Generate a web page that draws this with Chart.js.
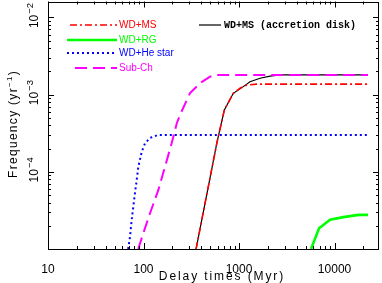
<!DOCTYPE html>
<html>
<head>
<meta charset="utf-8">
<script src="https://cdn.jsdelivr.net/npm/chart.js@4.4.0/dist/chart.umd.min.js"></script>
<style>
  html, body { margin: 0; padding: 0; background: #fff; }
  #chart { display: block; }
</style>
</head>
<body>
<canvas id="chart" width="382" height="283"></canvas>
<script>
// tick values
const xTicks = [10, 100, 1000, 10000];
const yTicks = [1e-4, 1e-3, 1e-2];
const yTickExps = ['\u22124', '\u22123', '\u22122'];

// delay time (Myr) / frequency (yr^-1)
const wdmsX = [355, 589, 702, 871, 1023, 1204, 1531, 22400];
const wdmsY = [1.0e-5, 2.44e-4, 6.33e-4, 1.04e-3, 1.21e-3, 1.33e-3, 1.37e-3, 1.37e-3];

const rgX = [5675, 6885, 8975, 12370, 17750, 22400];
const rgY = [1.0e-5, 1.86e-5, 2.39e-5, 2.59e-5, 2.77e-5, 2.77e-5];

const heX = [69, 72.3, 75.2, 78.2, 81.4, 84.9, 88.3, 95.8, 103.7, 117, 142, 22400];
const heY = [1.0e-5, 1.45e-5, 2.39e-5, 3.55e-5, 5.34e-5, 7.86e-5, 1.17e-4, 1.82e-4, 2.34e-4, 2.75e-4, 3.0e-4, 3.0e-4];

const subchX = [88, 99.6, 117, 143, 168, 197, 223, 241, 307, 391, 497, 584, 22400];
const subchY = [1.0e-5, 1.61e-5, 2.91e-5, 5.83e-5, 1.17e-4, 2.34e-4, 4.26e-4, 5.45e-4, 1.05e-3, 1.41e-3, 1.71e-3, 1.80e-3, 1.80e-3];

const diskX = [355, 589, 702, 871, 1109, 1303, 1660, 2113, 2688, 22400];
const diskY = [1.0e-5, 2.44e-4, 6.33e-4, 1.04e-3, 1.27e-3, 1.47e-3, 1.63e-3, 1.74e-3, 1.80e-3, 1.80e-3];

const pts = (xs, ys) => xs.map((x, i) => ({x: x, y: ys[i]}));

const SANS = "'Liberation Sans', Arial, sans-serif";

// frame, inward ticks, y labels, titles and legend
const decor = {
    id: 'decor',
    afterDraw(chart) {
        const ctx = chart.ctx;
        const a = chart.chartArea;
        const xs = chart.scales.x, ys = chart.scales.y;
        ctx.save();
        ctx.strokeStyle = '#000';
        ctx.lineWidth = 1;
        ctx.setLineDash([]);
        ctx.strokeRect(Math.round(a.left) + 0.5, Math.round(a.top) + 0.5,
            Math.round(a.right - a.left) - 1, Math.round(a.bottom - a.top) - 1);

        const tick = (x1, y1, x2, y2) => {
            ctx.beginPath();
            ctx.moveTo(x1, y1);
            ctx.lineTo(x2, y2);
            ctx.stroke();
        };
        // x ticks
        for (let d = 10; d <= xs.max; d *= 10) {
            for (let m = 1; m <= 9; m++) {
                const v = d * m;
                if (v < xs.min || v > xs.max) continue;
                const len = m === 1 ? 6 : 3;
                const px = Math.round(xs.getPixelForValue(v)) + 0.5;
                tick(px, a.bottom, px, a.bottom - len);
                tick(px, a.top, px, a.top + len);
            }
        }
        // y ticks
        for (let d = 1e-5; d <= ys.max; d *= 10) {
            for (let m = 1; m <= 9; m++) {
                const v = d * m;
                if (v < ys.min * 0.999 || v > ys.max) continue;
                const len = m === 1 ? 6 : 3;
                const py = Math.round(ys.getPixelForValue(v)) + 0.5;
                tick(a.left, py, a.left + len, py);
                tick(a.right, py, a.right - len, py);
            }
        }

        ctx.fillStyle = '#000';
        ctx.textBaseline = 'alphabetic';
        ctx.textAlign = 'left';

        // y tick labels, rotated, with exponent
        yTicks.forEach((v, i) => {
            const py = ys.getPixelForValue(v);
            ctx.save();
            ctx.translate(37.5, py - 2);
            ctx.rotate(-Math.PI / 2);
            ctx.font = '12px ' + SANS;
            const wb = ctx.measureText('10').width;
            ctx.font = '9.5px ' + SANS;
            const we = ctx.measureText(yTickExps[i]).width;
            const x0 = -(wb + 1 + we) / 2;
            ctx.font = '12px ' + SANS;
            ctx.fillText('10', x0, 0);
            ctx.font = '9.5px ' + SANS;
            ctx.fillText(yTickExps[i], x0 + wb + 1, -5);
            ctx.restore();
        });

        // axis titles
        ctx.save();
        ctx.font = '12px ' + SANS;
        ctx.letterSpacing = '1.9px';
        const xt = 'Delay times (Myr)';
        const wx = ctx.measureText(xt).width;
        ctx.fillText(xt, 222 - wx / 2, 280);
        ctx.restore();

        ctx.save();
        ctx.translate(17, 124);
        ctx.rotate(-Math.PI / 2);
        ctx.letterSpacing = '1.3px';
        ctx.font = '12px ' + SANS;
        const p1 = 'Frequency (yr', p3 = ')';
        const w1 = ctx.measureText(p1).width;
        const w3 = ctx.measureText(p3).width;
        ctx.font = '8px ' + SANS;
        const w2 = ctx.measureText('\u22121').width;
        let x = -(w1 + w2 + w3) / 2;
        ctx.font = '12px ' + SANS;
        ctx.fillText(p1, x, 0);
        x += w1;
        ctx.font = '8px ' + SANS;
        ctx.fillText('\u22121', x, -5);
        x += w2;
        ctx.font = '12px ' + SANS;
        ctx.fillText(p3, x, 0);
        ctx.restore();

        // legend
        const items = [
            {ds: 0, x1: 70, x2: 117, y: 25},
            {ds: 1, x1: 67, x2: 117, y: 40},
            {ds: 2, x1: 67, x2: 117, y: 53},
            {ds: 3, x1: 75, x2: 117, y: 68}
        ];
        items.forEach(it => {
            const d = chart.data.datasets[it.ds];
            ctx.save();
            ctx.strokeStyle = d.borderColor;
            ctx.lineWidth = d.borderWidth;
            ctx.setLineDash(d.borderDash || []);
            tick(it.x1, it.y, it.x2, it.y);
            ctx.restore();
            ctx.fillStyle = d.borderColor;
            ctx.font = '10px ' + SANS;
            ctx.textBaseline = 'middle';
            ctx.fillText(d.label, 119, it.y);
        });
        const dk = chart.data.datasets[4];
        ctx.strokeStyle = '#000';
        ctx.lineWidth = dk.borderWidth;
        tick(199, 25, 221, 25);
        ctx.fillStyle = '#000';
        ctx.font = "bold 10px 'Liberation Mono', 'DejaVu Sans Mono', monospace";
        ctx.textBaseline = 'middle';
        ctx.fillText(dk.label, 224, 25);
        ctx.restore();
    }
};

const chart = new Chart(document.getElementById('chart'), {
    type: 'line',
    data: {
        datasets: [
            {
                label: 'WD+MS',
                data: pts(wdmsX, wdmsY),
                borderColor: '#ff0000',
                borderWidth: 1.6,
                borderDash: [7, 3, 2, 3],
                order: 1
            },
            {
                label: 'WD+RG',
                data: pts(rgX, rgY),
                borderColor: '#00ff00',
                borderWidth: 2.6,
                order: 2
            },
            {
                label: 'WD+He star',
                data: pts(heX, heY),
                borderColor: '#0000ff',
                borderWidth: 2,
                borderDash: [2, 3],
                order: 3
            },
            {
                label: 'Sub-Ch',
                data: pts(subchX, subchY),
                borderColor: '#ff00ff',
                borderWidth: 2,
                borderDash: [12, 6],
                order: 4
            },
            {
                label: 'WD+MS (accretion disk)',
                data: pts(diskX, diskY),
                borderColor: '#000000',
                borderWidth: 1.2,
                order: 9
            }
        ]
    },
    options: {
        responsive: false,
        animation: false,
        devicePixelRatio: 1,
        parsing: true,
        elements: {
            point: {radius: 0},
            line: {tension: 0, fill: false}
        },
        layout: {padding: {top: 1.5, right: 3, left: 0, bottom: 0}},
        plugins: {
            legend: {display: false},
            tooltip: {enabled: false}
        },
        scales: {
            x: {
                type: 'logarithmic',
                bounds: 'data',
                min: 10,
                max: 29200,
                grid: {display: false},
                border: {display: false},
                afterBuildTicks: (s) => { s.ticks = xTicks.map(v => ({value: v})); },
                afterFit: (s) => { s.height = 34; },
                ticks: {
                    autoSkip: false,
                    maxRotation: 0,
                    padding: 5,
                    color: '#000',
                    font: {family: SANS, size: 12},
                    callback: (v) => String(v)
                }
            },
            y: {
                type: 'logarithmic',
                bounds: 'data',
                min: 1e-5,
                max: 0.0161,
                grid: {display: false},
                border: {display: false},
                afterBuildTicks: (s) => { s.ticks = yTicks.map(v => ({value: v})); },
                afterFit: (s) => { s.width = 48; },
                ticks: {display: false}
            }
        }
    },
    plugins: [decor]
});
</script>
</body>
</html>
